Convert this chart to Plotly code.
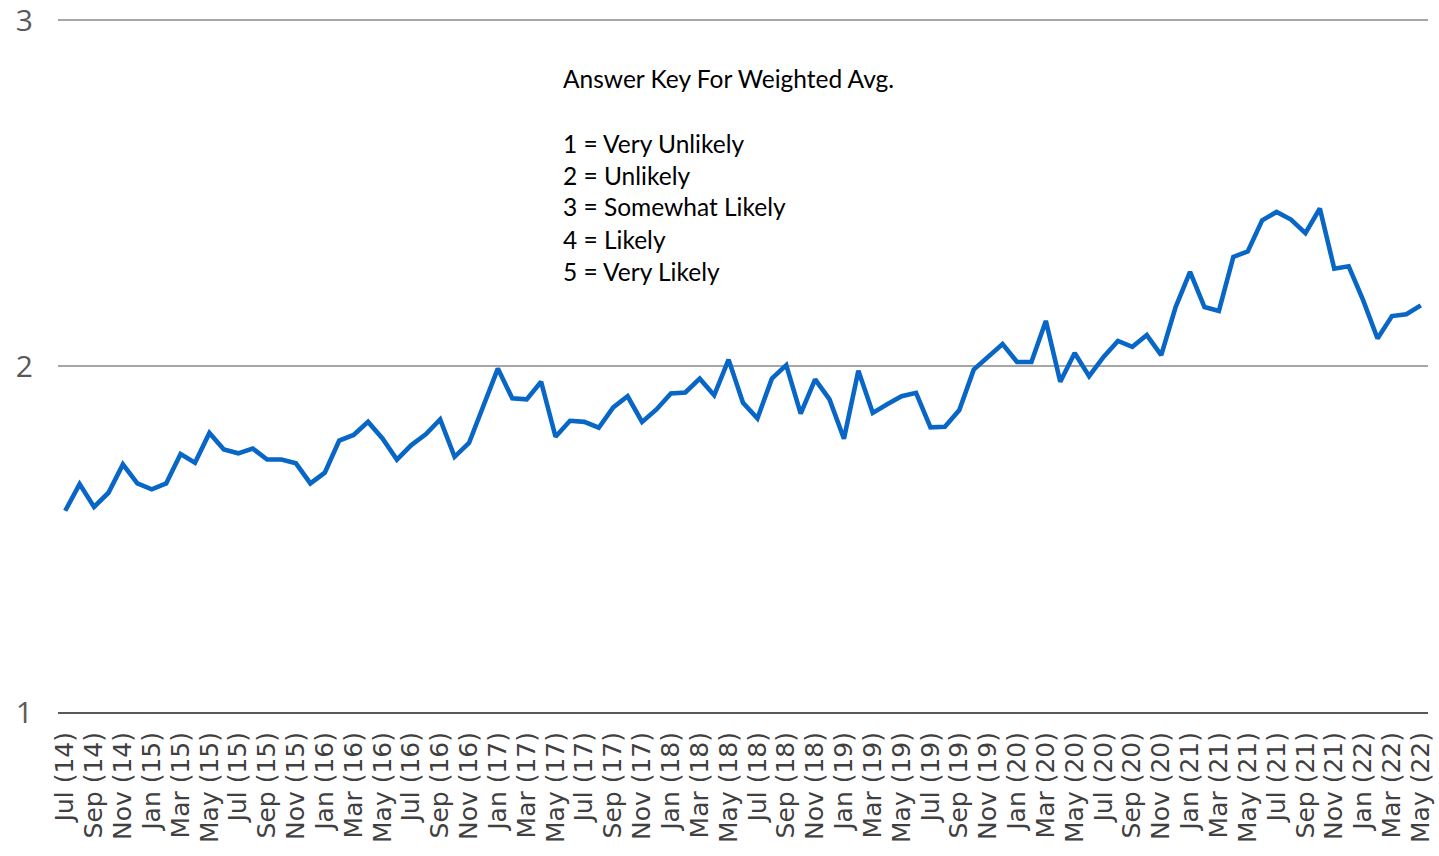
import plotly.graph_objects as go

# Weighted average by month, Jul 2014 .. May 2022
v2014 = [1.582, 1.659, 1.593, 1.634, 1.716, 1.661]
v2015 = [1.644, 1.661, 1.746, 1.721, 1.807, 1.759, 1.748, 1.762, 1.730, 1.730, 1.719, 1.661]
v2016 = [1.692, 1.785, 1.801, 1.839, 1.791, 1.730, 1.772, 1.803, 1.846, 1.738, 1.778, 1.887]
v2017 = [1.993, 1.907, 1.904, 1.955, 1.796, 1.842, 1.839, 1.822, 1.881, 1.913, 1.839, 1.875]
v2018 = [1.921, 1.924, 1.964, 1.916, 2.019, 1.894, 1.849, 1.964, 2.003, 1.863, 1.962, 1.904]
v2019 = [1.790, 1.987, 1.865, 1.890, 1.913, 1.923, 1.823, 1.825, 1.873, 1.990, 2.029, 2.064]
v2020 = [2.012, 2.012, 2.131, 1.955, 2.038, 1.971, 2.027, 2.073, 2.056, 2.090, 2.032, 2.171]
v2021 = [2.273, 2.171, 2.160, 2.316, 2.332, 2.422, 2.446, 2.424, 2.385, 2.456, 2.282, 2.289]
v2022 = [2.191, 2.080, 2.145, 2.150, 2.176]

tick_labels = [
    "Jul (14)", "Sep (14)", "Nov (14)",
    "Jan (15)", "Mar (15)", "May (15)", "Jul (15)", "Sep (15)", "Nov (15)",
    "Jan (16)", "Mar (16)", "May (16)", "Jul (16)", "Sep (16)", "Nov (16)",
    "Jan (17)", "Mar (17)", "May (17)", "Jul (17)", "Sep (17)", "Nov (17)",
    "Jan (18)", "Mar (18)", "May (18)", "Jul (18)", "Sep (18)", "Nov (18)",
    "Jan (19)", "Mar (19)", "May (19)", "Jul (19)", "Sep (19)", "Nov (19)",
    "Jan (20)", "Mar (20)", "May (20)", "Jul (20)", "Sep (20)", "Nov (20)",
    "Jan (21)", "Mar (21)", "May (21)", "Jul (21)", "Sep (21)", "Nov (21)",
    "Jan (22)", "Mar (22)", "May (22)",
]

key_title = "Answer Key For Weighted Avg."
key_lines = ["1 = Very Unlikely", "2 = Unlikely", "3 = Somewhat Likely", "4 = Likely", "5 = Very Likely"]

values = v2014 + v2015 + v2016 + v2017 + v2018 + v2019 + v2020 + v2021 + v2022
x = list(range(len(values)))
tick_pos = x[::2]

# the page's body margin is removed below, so the figure fills the window
W, H = 1439, 856
ML, MR, MT, MB = 58, 11, 19, 144
PW, PH = W - ML - MR, H - MT - MB

fig = go.Figure()
fig.add_trace(go.Scatter(
    x=x, y=values, mode="lines",
    line=dict(color="#0866c6", width=4.6),
    hoverinfo="y", showlegend=False,
))

def px_to_paper(xp, yp):
    return (xp - ML) / PW, (MT + PH - yp) / PH

font_key = dict(family="Lato", size=24.5, color="#000000")
annos = []
tx, ty = px_to_paper(563, 79)
annos.append(dict(x=tx, y=ty, xref="paper", yref="paper", text=key_title,
                  showarrow=False, xanchor="left", yanchor="middle", xshift=-2,
                  font=font_key))
for i, line in enumerate(key_lines):
    tx, ty = px_to_paper(563, 143 + 32 * i)
    annos.append(dict(x=tx, y=ty, xref="paper", yref="paper", text=line,
                      showarrow=False, xanchor="left", yanchor="middle", xshift=-2,
                      font=font_key))

fig.update_layout(
    width=W, height=H,
    margin=dict(l=ML, r=MR, t=MT, b=MB, pad=0, autoexpand=False),
    paper_bgcolor="white", plot_bgcolor="white",
    annotations=annos,
    xaxis=dict(
        range=[-0.5, len(values) - 0.5], automargin=False,
        tickmode="array", tickvals=tick_pos, ticktext=tick_labels,
        tickangle=-90, showgrid=False, zeroline=False,
        showline=True, linecolor="#595959", linewidth=2,
        ticks="", ticklabelstandoff=8, ticklabeloverflow="allow",
        tickfont=dict(family="DejaVu Sans", size=25, color="#404040"),
    ),
    yaxis=dict(
        range=[1, 3.004], automargin=False,
        tickvals=[1, 2, 3], ticktext=["1", "2", "3"],
        showgrid=True, gridcolor="#a6a6a6", gridwidth=1.5,
        zeroline=False, showline=False, ticks="", ticklabelstandoff=24,
        ticklabeloverflow="allow",
        tickfont=dict(family="Open Sans", size=30, color="#595959"),
    ),
)

fig.write_html(
    "out.html",
    config={"displayModeBar": False},
    post_script="document.body.style.margin='0';document.body.style.overflow='hidden';",
)
